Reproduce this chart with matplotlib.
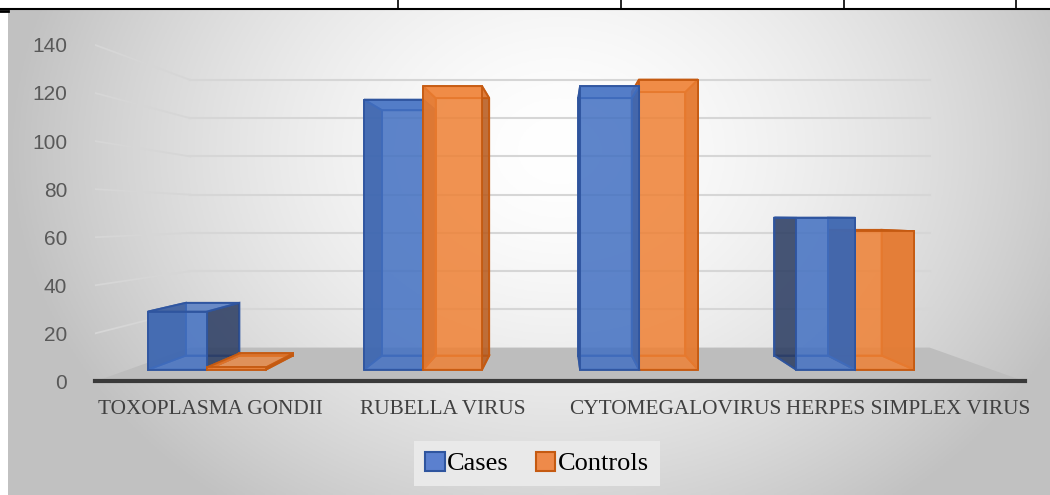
import numpy as np
import matplotlib.pyplot as plt
from matplotlib.patches import Polygon, Patch

## data
categories = ['TOXOPLASMA GONDII', 'RUBELLA VIRUS', 'CYTOMEGALOVIRUS', 'HERPES SIMPLEX VIRUS']
cases = [26, 121, 127, 68]
controls = [1, 127, 130, 62]
series_names = ['Cases', 'Controls']
yticks = [0, 20, 40, 60, 80, 100, 120, 140]

## fake 3D look (Excel style): perspective around a vanishing point
VX, VY = 1.634, 68.8          # vanishing point in data units
S_FRONT, S_BACK = 0.928, 0.843  # depth of bar faces
S_WALL = 0.795                # depth of back wall
XL, XR = -0.364, 3.632        # floor edges
BAR_W = 0.273

blue = dict(face='#4472c4', side='#2b3a5c', back='#3d64b0', edge='#2f559f')
orange = dict(face='#f08236', side='#b4581c', back='#e07a30', edge='#c55a11')


def proj(x, y, s):
    return (VX + s * (x - VX), VY + s * (y - VY))


def draw_box(ax, x0, x1, h, col, z):
    fr = [(x0, 0), (x1, 0), (x1, h), (x0, h)]
    F = [proj(x, y, S_FRONT) for x, y in fr]
    B = [proj(x, y, S_BACK) for x, y in fr]
    faces = [
        (B, col['back'], 0.35),
        ([F[0], F[1], B[1], B[0]], col['back'], 0.3),
        ([F[0], F[3], B[3], B[0]], col['side'], 0.8),
        ([F[1], F[2], B[2], B[1]], col['side'], 0.8),
        ([F[3], F[2], B[2], B[3]], col['face'], 0.6),
        (F, col['face'], 0.78),
    ]
    for k, (pts, c, a) in enumerate(faces):
        ax.add_patch(Polygon(pts, closed=True, facecolor=c, alpha=a,
                             edgecolor='none', zorder=z + k * 0.01))
        ax.add_patch(Polygon(pts, closed=True, fill=False, edgecolor=col['edge'],
                             lw=1.4, alpha=0.9, zorder=z + k * 0.01 + 0.005))


fig = plt.figure(figsize=(10.5, 4.95), dpi=100)

# background gradient of the chart area
bg = fig.add_axes([8 / 1050, 0, 1 - 8 / 1050, 1 - 10 / 495])
bg.set_axis_off()
xx, yy = np.meshgrid(np.linspace(8, 1050, 400), np.linspace(10, 495, 200))
r = np.sqrt(((xx - 560) / 520) ** 2 + ((yy - 150) / 420) ** 2)
g = np.clip(1 - 0.22 * r ** 1.6, 0.76, 1)
bg.imshow(np.dstack([g, g, g]), aspect='auto', extent=(0, 1, 0, 1))

# table lines at the top
fig.add_artist(plt.Line2D([0, 1], [1 - 9 / 495] * 2, color='black', lw=1.5))
for px in [398, 621, 844, 1016]:
    fig.add_artist(plt.Line2D([px / 1050] * 2, [1 - 9 / 495, 1], color='black', lw=1.2))
fig.add_artist(plt.Line2D([0, 8 / 1050], [1 - 11 / 495] * 2, color='black', lw=2))

ax = fig.add_axes([95 / 1050, 108.7 / 495, 930 / 1050, 346.2 / 495])
ax.set_facecolor('none')
ax.set_xlim(XL, XR)
ax.set_ylim(-2, 142)
for sp in ax.spines.values():
    sp.set_visible(False)

# floor
floor = [(XL, 0), (XR, 0), proj(XR, 0, S_WALL), proj(XL, 0, S_WALL)]
ax.add_patch(Polygon(floor, closed=True, facecolor='#bdbdbd', edgecolor='none', zorder=1))

# gridlines on side and back wall
for v in yticks[1:]:
    bl = proj(XL, v, S_WALL)
    br = proj(XR, v, S_WALL)
    ax.plot([XL, bl[0]], [v, bl[1]], color='#d6d6d6', lw=1.3, zorder=0.5)
    ax.plot([bl[0], br[0]], [bl[1], br[1]], color='#d6d6d6', lw=1.5, zorder=0.5)

ax.plot([XL, XR], [0, 0], color='#3a3a3a', lw=3, zorder=2, clip_on=False)

# bars
for i in range(len(categories)):
    cx = [i - BAR_W, i]
    ox = [i, i + BAR_W]
    if i + BAR_W < VX:
        draw_box(ax, cx[0], cx[1], cases[i], blue, 3 + i)
        draw_box(ax, ox[0], ox[1], controls[i], orange, 3.5 + i)
    else:
        draw_box(ax, ox[0], ox[1], controls[i], orange, 3 + i)
        draw_box(ax, cx[0], cx[1], cases[i], blue, 3.5 + i)

ax.set_yticks(yticks)
ax.set_yticklabels([str(t) for t in yticks], family='Liberation Sans', fontsize=15, color='#595959')
ax.tick_params(axis='y', length=0, pad=20)
ax.set_xticks([i + 0.13 for i in range(len(categories))])
ax.set_xticklabels(categories, family='Liberation Serif', fontsize=15.3, color='#404040')
ax.tick_params(axis='x', length=0, pad=10)

handles = [Patch(facecolor='#5b80cf', edgecolor=blue['edge'], lw=1.5),
           Patch(facecolor='#ee8a4a', edgecolor=orange['edge'], lw=1.5)]
leg = fig.legend(handles, series_names, loc='center', bbox_to_anchor=(537 / 1050, 1 - 463.5 / 495),
                 ncol=2, frameon=True, fancybox=False, facecolor='#e9e9e9', edgecolor='none',
                 prop={'family': 'Liberation Serif', 'size': 19}, handlelength=0.75, handleheight=0.75,
                 handletextpad=0.1, columnspacing=1.0, borderpad=0.4)
leg.get_frame().set_alpha(1)

fig.savefig('out.png', dpi=100)
